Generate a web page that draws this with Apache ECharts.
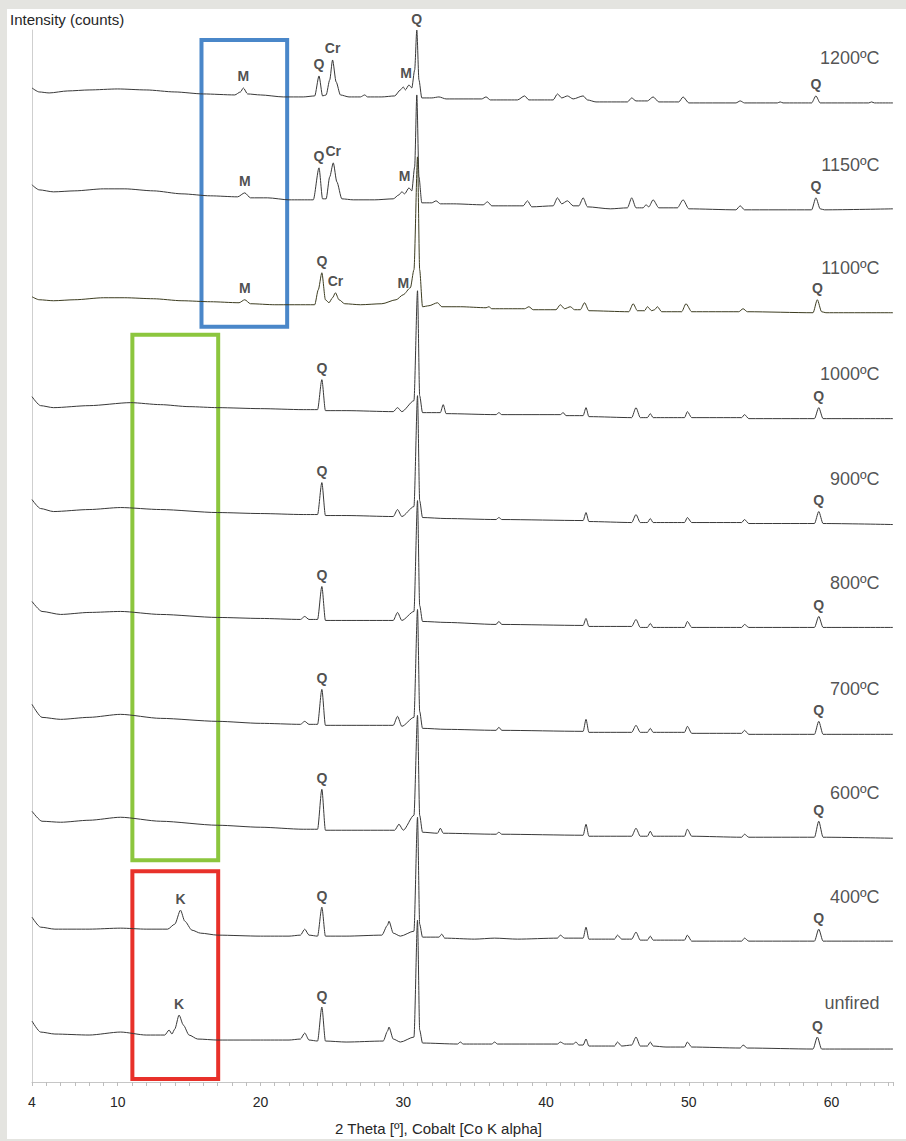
<!DOCTYPE html>
<html>
<head>
<meta charset="utf-8">
<script src="https://cdn.jsdelivr.net/npm/echarts@6.0.0/dist/echarts.min.js"></script>
<style>
  html, body { margin: 0; padding: 0; background: #e4e4e0; }
  #frame { position: absolute; left: 7px; top: 9px; width: 899px; height: 1130px; background: #fff; }
  #chart { position: absolute; left: 0; top: 0; width: 906px; height: 1141px; }
</style>
</head>
<body>
<div id="frame"></div>
<div id="chart"></div>
<script>
// XRD patterns of the clay body, raw and after firing (2-theta, Co K-alpha)
// Each pattern: [2theta in degrees, intensity in counts above its own baseline]

const sampleNames = ['1200ºC', '1150ºC', '1100ºC', '1000ºC', '900ºC', '800ºC', '700ºC', '600ºC', '400ºC', 'unfired'];

// vertical stacking offset of each pattern (counts)
const stackOffsets = [983, 876, 773, 667, 562, 457, 351, 247, 143, 37];

const p1200 = [
  [4.0, 12], [4.5, 8], [5.2, 7], [6.5, 9], [8.0, 10], [10.0, 11], [12.0, 10], [14.0, 8], [16.0, 6],
  [18.2, 5], [18.6, 8], [18.8, 12], [19.1, 6], [20.0, 5], [21.6, 3], [23.0, 3], [23.8, 4],
  [24.1, 24], [24.35, 4], [24.6, 5], [24.85, 20], [25.05, 40], [25.3, 18], [25.6, 5], [26.2, 3],
  [27.0, 3], [27.3, 5], [27.5, 3], [28.5, 3], [29.4, 4], [29.8, 10], [30.0, 13], [30.15, 10],
  [30.4, 15], [30.6, 12], [30.8, 30], [30.95, 70], [31.1, 20], [31.3, 2], [32.0, 2], [32.5, 3],
  [33.0, 1], [35.5, 1], [35.8, 3], [36.1, 0], [38.0, 0], [38.5, 4], [38.8, 0], [40.5, 0],
  [40.8, 6], [41.1, 2], [41.5, 4], [41.9, 1], [42.6, 4], [42.9, 0], [43.5, -2], [45.7, -2],
  [46.0, 2], [46.3, -1], [47.1, -1], [47.5, 3], [47.9, -2], [49.3, -2], [49.6, 3], [50.0, -3],
  [53.3, -3], [53.6, -1], [53.9, -3], [56.2, -3], [56.4, -2], [56.6, -3], [58.6, -3], [58.9, 4],
  [59.2, -3], [62.6, -3], [62.8, -2], [63.0, -3], [64.3, -3]
];

const p1150 = [
  [4.0, 22], [4.5, 17], [5.5, 15], [7.0, 16], [9.0, 18], [10.5, 18], [12.5, 16], [14.5, 13],
  [16.5, 11], [18.4, 10], [18.9, 14], [19.3, 9], [20.5, 9], [22.0, 7], [23.7, 7], [24.1, 39],
  [24.35, 8], [24.6, 8], [24.85, 30], [25.1, 44], [25.35, 25], [25.7, 8], [26.5, 7], [28.0, 7],
  [29.3, 8], [29.7, 12], [29.9, 15], [30.1, 13], [30.4, 19], [30.6, 16], [30.8, 40], [30.95, 112],
  [31.1, 30], [31.3, 4], [32.0, 4], [32.3, 6], [32.6, 3], [33.5, 3], [35.6, 2], [35.9, 5],
  [36.2, 1], [38.4, 1], [38.7, 6], [39.0, 0], [40.5, 1], [40.8, 9], [41.1, 3], [41.5, 6],
  [41.9, 1], [42.3, 1], [42.6, 9], [42.9, 0], [44.5, -2], [45.7, -1], [46.0, 9], [46.3, -1],
  [46.8, -1], [47.0, 2], [47.2, 0], [47.5, 7], [47.9, -1], [49.2, -1], [49.6, 7], [50.0, -2],
  [53.3, -3], [53.6, 1], [53.9, -3], [58.6, -3], [58.9, 9], [59.2, -2], [59.5, -3], [64.3, -2]
];

const p1100 = [
  [4.0, 13], [4.5, 10], [5.5, 9], [7.0, 10], [9.0, 12], [10.5, 12], [12.5, 11], [14.5, 9],
  [16.5, 8], [18.5, 7], [18.9, 10], [19.3, 6], [21.0, 5], [23.8, 5], [24.05, 20], [24.3, 37],
  [24.55, 10], [24.8, 7], [25.05, 12], [25.25, 17], [25.5, 10], [25.9, 6], [27.0, 5], [28.5, 6],
  [29.5, 10], [30.0, 15], [30.5, 22], [30.75, 40], [31.0, 153], [31.15, 40], [31.35, 3],
  [31.8, 4], [32.4, 7], [32.7, 3], [34.0, 3], [35.8, 2], [36.0, 3], [36.2, 1], [38.5, 1],
  [38.8, 3], [39.1, 0], [40.7, 0], [41.0, 5], [41.3, 1], [41.7, 3], [42.0, 0], [42.4, 0],
  [42.7, 7], [43.0, -1], [45.8, -2], [46.1, 6], [46.4, -1], [46.9, -1], [47.1, 3], [47.4, -1],
  [47.6, 0], [47.8, 3], [48.1, -2], [49.5, -2], [49.8, 6], [50.2, -2], [53.5, -2], [53.8, 1],
  [54.1, -2], [58.7, -3], [59.0, 10], [59.3, -2], [59.6, -3], [64.3, -3]
];

const p1000 = [
  [4.0, 19], [4.6, 10], [5.5, 8], [8.0, 10], [10.9, 13], [13.0, 11], [15.0, 9], [17.0, 8],
  [20.0, 7], [23.0, 6], [24.0, 6], [24.3, 36], [24.55, 5], [26.0, 5], [29.3, 4], [29.6, 8],
  [29.9, 4], [30.75, 15], [31.0, 125], [31.15, 20], [31.35, 3], [32.6, 3], [32.8, 11], [33.0, 2],
  [36.5, 1], [36.7, 3], [36.9, 1], [41.0, 1], [41.2, 3], [41.4, 0], [42.6, 0], [42.8, 8],
  [43.0, -1], [46.0, -2], [46.3, 8], [46.6, -2], [47.1, -2], [47.3, 2], [47.5, -2], [49.7, -2],
  [49.9, 4], [50.2, -2], [53.7, -2], [53.9, 1], [54.2, -3], [58.8, -3], [59.1, 8], [59.4, -3],
  [64.3, -3]
];

const p900 = [
  [4.0, 21], [4.6, 12], [5.5, 9], [8.0, 11], [10.2, 13], [13.0, 11], [17.0, 8], [20.0, 7],
  [23.0, 6], [24.0, 6], [24.3, 38], [24.55, 5], [26.0, 5], [29.3, 4], [29.6, 11], [29.9, 4],
  [30.75, 14], [31.0, 125], [31.15, 20], [31.35, 3], [33.0, 2], [36.5, 1], [36.7, 3], [36.9, 1],
  [42.6, 0], [42.8, 8], [43.0, -1], [46.0, -2], [46.3, 6], [46.6, -2], [47.1, -2], [47.3, 2],
  [47.5, -2], [49.7, -2], [49.9, 3], [50.2, -2], [53.7, -2], [53.9, 1], [54.2, -3], [58.8, -3],
  [59.1, 9], [59.4, -3], [64.3, -4]
];

const p800 = [
  [4.0, 24], [4.7, 14], [6.0, 11], [8.0, 13], [10.2, 14], [13.0, 11], [17.0, 8], [20.0, 7],
  [22.8, 6], [23.1, 9], [23.4, 6], [24.0, 6], [24.3, 39], [24.55, 5], [26.0, 5], [29.3, 5],
  [29.6, 13], [29.9, 5], [30.75, 14], [31.0, 125], [31.15, 20], [31.35, 4], [33.0, 3], [36.5, 1],
  [36.7, 4], [36.9, 1], [42.6, 0], [42.8, 7], [43.0, -1], [46.0, -1], [46.3, 6], [46.6, -2],
  [47.1, -2], [47.3, 2], [47.5, -2], [49.7, -2], [49.9, 4], [50.2, -2], [53.7, -2], [53.9, 1],
  [54.2, -2], [58.8, -2], [59.1, 9], [59.4, -2], [64.3, -2]
];

const p700 = [
  [4.0, 27], [4.7, 14], [6.0, 12], [8.0, 14], [10.2, 17], [13.0, 13], [17.0, 10], [20.0, 8],
  [22.8, 7], [23.1, 10], [23.4, 7], [24.0, 7], [24.3, 42], [24.55, 6], [26.0, 6], [29.3, 6],
  [29.6, 15], [29.9, 5], [30.75, 14], [31.0, 122], [31.15, 20], [31.35, 3], [33.0, 2], [36.5, 1],
  [36.7, 4], [36.9, 1], [42.6, 0], [42.8, 12], [43.0, -1], [46.0, -1], [46.3, 6], [46.6, -1],
  [47.1, -1], [47.3, 3], [47.5, -1], [49.7, -1], [49.9, 5], [50.2, -2], [53.7, -2], [53.9, 1],
  [54.2, -3], [58.8, -3], [59.1, 10], [59.4, -3], [64.3, -3]
];

const p600 = [
  [4.0, 24], [4.7, 14], [6.0, 13], [8.0, 15], [10.2, 18], [13.0, 14], [17.0, 10], [20.0, 8],
  [23.0, 6], [24.0, 6], [24.3, 46], [24.55, 5], [26.0, 5], [29.4, 5], [29.7, 11], [30.0, 5],
  [30.75, 20], [31.0, 120], [31.15, 20], [31.35, 3], [32.4, 2], [32.6, 7], [32.8, 2], [36.5, 1],
  [36.7, 3], [36.9, 1], [42.6, 0], [42.8, 11], [43.0, -1], [46.0, -1], [46.3, 7], [46.6, -1],
  [47.1, -1], [47.3, 4], [47.5, -1], [49.7, -1], [49.9, 6], [50.2, -1], [53.7, -2], [53.9, 1],
  [54.2, -2], [58.8, -2], [59.1, 14], [59.4, -2], [64.3, -3]
];

const p400 = [
  [4.0, 22], [4.6, 12], [5.6, 10], [8.0, 10], [10.2, 11], [12.0, 10], [13.5, 10], [14.0, 15],
  [14.4, 29], [14.7, 18], [15.2, 9], [15.8, 6], [17.0, 4], [20.0, 3], [22.0, 3], [22.8, 4],
  [23.1, 10], [23.4, 4], [24.0, 3], [24.3, 32], [24.55, 3], [26.0, 3], [28.5, 4], [28.9, 14],
  [29.0, 18], [29.3, 6], [29.8, 3], [30.75, 8], [31.0, 122], [31.15, 15], [31.35, 2], [32.5, 2],
  [32.7, 5], [32.9, 1], [35.0, 0], [36.4, 1], [38.0, 0], [40.8, 1], [41.0, 4], [41.3, 1],
  [42.6, 1], [42.8, 12], [43.0, 0], [44.8, 0], [45.0, 4], [45.3, 0], [46.0, 0], [46.3, 7],
  [46.6, -1], [47.1, -1], [47.3, 3], [47.5, -1], [49.7, -1], [49.9, 4], [50.2, -2], [53.7, -2],
  [53.9, 1], [54.2, -2], [58.8, -2], [59.1, 10], [59.4, -2], [64.3, -2]
];

const pUnfired = [
  [4.0, 24], [4.6, 13], [5.6, 11], [8.0, 10], [10.2, 13], [12.0, 10], [13.3, 10], [13.6, 15],
  [13.8, 11], [14.0, 16], [14.3, 30], [14.6, 20], [15.0, 10], [15.6, 6], [17.0, 5], [20.0, 5],
  [22.0, 5], [22.8, 6], [23.1, 12], [23.4, 5], [24.0, 4], [24.3, 38], [24.55, 4], [26.0, 3],
  [28.6, 4], [28.9, 14], [29.0, 18], [29.3, 6], [29.8, 3], [30.75, 8], [31.0, 125], [31.15, 15],
  [31.35, 2], [33.8, 1], [34.0, 3], [34.2, 1], [36.2, 1], [36.4, 3], [36.6, 1], [40.8, 1],
  [41.0, 3], [41.3, 1], [41.9, 1], [42.1, 3], [42.3, 0], [42.6, 0], [42.8, 6], [43.0, -1],
  [44.8, -1], [45.0, 3], [45.3, -1], [46.0, 0], [46.3, 8], [46.6, -1], [47.1, -1], [47.3, 3],
  [47.5, -1], [48.4, -2], [49.7, -2], [49.9, 3], [50.2, -2], [53.6, -3], [53.8, 0], [54.1, -3],
  [58.7, -4], [59.0, 8], [59.3, -4], [64.3, -4]
];

const patterns = [p1200, p1150, p1100, p1000, p900, p800, p700, p600, p400, pUnfired];

// Phase identifications: [pattern index, 2theta, phase]
// Q = quartz, Cr = cristobalite, M = mullite, K = kaolinite
const phaseMarks = [
  [0, 18.8, 'M'], [0, 24.1, 'Q'], [0, 25.05, 'Cr'], [0, 30.2, 'M'], [0, 30.95, 'Q'], [0, 58.9, 'Q'],
  [1, 18.9, 'M'], [1, 24.1, 'Q'], [1, 25.1, 'Cr'], [1, 30.1, 'M'], [1, 58.9, 'Q'],
  [2, 18.9, 'M'], [2, 24.3, 'Q'], [2, 25.25, 'Cr'], [2, 30.0, 'M'], [2, 59.0, 'Q'],
  [3, 24.3, 'Q'], [3, 59.1, 'Q'],
  [4, 24.3, 'Q'], [4, 59.1, 'Q'],
  [5, 24.3, 'Q'], [5, 59.1, 'Q'],
  [6, 24.3, 'Q'], [6, 59.1, 'Q'],
  [7, 24.3, 'Q'], [7, 59.1, 'Q'],
  [8, 14.4, 'K'], [8, 24.3, 'Q'], [8, 59.1, 'Q'],
  [9, 14.3, 'K'], [9, 24.3, 'Q'], [9, 59.0, 'Q']
];

// Highlighted 2theta windows: [2theta from, 2theta to, counts from, counts to]
const windowMullite = [15.87, 21.87, 756, 1043];
const windowAmorphous = [11.03, 17.04, 222, 748];
const windowKaolinite = [11.03, 17.04, 3, 211];

const xTickLabels = [4, 10, 20, 30, 40, 50, 60];

const X_MIN = 4, X_MAX = 64.3;

const lineColors = ['#383838', '#383838', '#3c3c20', '#383838', '#383838', '#383838', '#383838', '#383838', '#383838', '#383838'];

const FONT = 'Liberation Sans, Arial, sans-serif';

const chart = echarts.init(document.getElementById('chart'), null, { renderer: 'svg' });

const lineSeries = patterns.map((pts, i) => ({
  type: 'line',
  name: sampleNames[i],
  data: pts.map(p => [p[0], p[1] + stackOffsets[i]]),
  showSymbol: false,
  symbol: 'none',
  smooth: 0.25,
  smoothMonotone: 'x',
  lineStyle: { color: lineColors[i], width: 1 },
  silent: true,
  z: 3
}));

// top of the strongest point of a pattern near a given angle
function peakTop(idx, x) {
  let best = -Infinity;
  patterns[idx].forEach(p => { if (Math.abs(p[0] - x) <= 0.3 && p[1] > best) best = p[1]; });
  return best + stackOffsets[idx];
}

const markSeries = {
  type: 'scatter',
  name: 'phases',
  data: phaseMarks.map(m => ({ name: m[2], value: [m[1], peakTop(m[0], m[1])] })),
  symbolSize: 1,
  itemStyle: { color: 'rgba(0,0,0,0)' },
  label: {
    show: true, position: 'top', distance: 4, formatter: '{b}',
    fontFamily: FONT, fontWeight: 'bold', fontSize: 14, color: '#222'
  },
  silent: true,
  z: 5
};

const nameSeries = {
  type: 'scatter',
  name: 'samples',
  data: sampleNames.map((n, i) => ({ name: n, value: [X_MAX, stackOffsets[i]] })),
  symbolSize: 1,
  itemStyle: { color: 'rgba(0,0,0,0)' },
  label: {
    show: true, position: 'left', distance: 13, offset: [0, -42], formatter: '{b}',
    fontFamily: FONT, fontSize: 18, color: '#262626'
  },
  silent: true,
  z: 5
};

function box(w, color) {
  return [
    { xAxis: w[0], yAxis: w[2], itemStyle: { color: 'rgba(0,0,0,0)', borderColor: color, borderWidth: 4 } },
    { xAxis: w[1], yAxis: w[3] }
  ];
}

const boxSeries = {
  type: 'line',
  name: 'windows',
  data: [],
  silent: true,
  markArea: {
    silent: true,
    data: [
      box(windowMullite, '#4a87c9'),
      box(windowAmorphous, '#8cc63e'),
      box(windowKaolinite, '#e8312a')
    ]
  },
  z: 4
};

chart.setOption({
  animation: false,
  backgroundColor: 'transparent',
  grid: { left: 32, right: 13, top: 30, bottom: 58 },
  xAxis: {
    type: 'value',
    min: X_MIN,
    max: X_MAX,
    interval: 1,
    name: '2 Theta [º], Cobalt [Co K alpha]',
    nameLocation: 'middle',
    nameGap: 39,
    nameTextStyle: { fontFamily: FONT, fontSize: 15, color: '#262626', padding: [0, 48, 0, 0] },
    axisLine: { lineStyle: { color: '#c6c6c6', width: 1 } },
    axisTick: { length: 4, lineStyle: { color: '#bdbdbd' } },
    axisLabel: {
      formatter: v => (xTickLabels.indexOf(v) >= 0 ? String(v) : ''),
      fontFamily: FONT, fontSize: 14, color: '#262626', margin: 13
    },
    splitLine: { show: false }
  },
  yAxis: {
    type: 'value',
    min: 0,
    max: 1053,
    axisLine: { show: true, lineStyle: { color: '#cfcfcf', width: 1 } },
    axisTick: { show: false },
    axisLabel: { show: false },
    splitLine: { show: false }
  },
  graphic: [{
    type: 'text', left: 10, top: 12,
    style: { text: 'Intensity (counts)', fontFamily: FONT, fontSize: 15, fill: '#262626' }
  }],
  series: [boxSeries, ...lineSeries, markSeries, nameSeries]
});
</script>
</body>
</html>
